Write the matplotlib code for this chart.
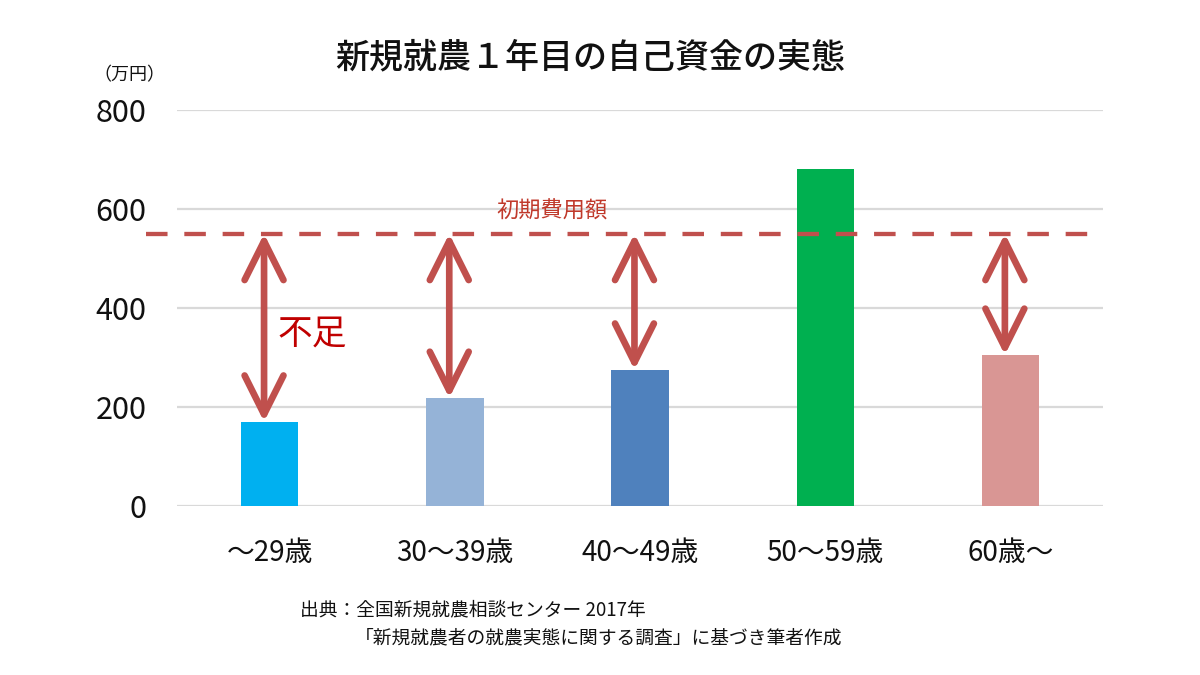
import matplotlib
matplotlib.use("Agg")
import matplotlib.pyplot as plt
from matplotlib.patches import FancyArrowPatch, ArrowStyle

plt.rcParams['font.family'] = ['Noto Sans CJK JP', 'DejaVu Sans']

# ---- data ----
categories = ["～29歳", "30～39歳", "40～49歳", "50～59歳", "60歳～"]
own_funds = [170, 218, 275, 680, 305]
initial_cost = 550
bar_colors = ["#00B0F0", "#95B3D7", "#4F81BD", "#00B050", "#D99694"]
yticks = [0, 200, 400, 600, 800]
title = "新規就農１年目の自己資金の実態"
unit_label = "（万円）"
cost_label = "初期費用額"
short_label = "不足"
source_lines = ["出典：全国新規就農相談センター 2017年",
                "「新規就農者の就農実態に関する調査」に基づき筆者作成"]

red = "#C0504D"

fig = plt.figure(figsize=(12, 6.75), dpi=100)
ax = fig.add_axes([0.1475, 0.2504, 0.7717, 0.5867])

x = list(range(len(categories)))
ax.bar(x, own_funds, width=0.31, color=bar_colors, zorder=2)

ax.set_xlim(-0.5, len(categories) - 0.5)
ax.set_ylim(0, 800)
ax.set_yticks(yticks)
ax.set_yticklabels([str(v) for v in yticks])
ax.set_xticks(x)
ax.set_xticklabels(categories)
ax.yaxis.grid(True, color="#D9D9D9", lw=1.6, zorder=0)
ax.set_axisbelow(True)
for s in ax.spines.values():
    s.set_visible(False)
ax.tick_params(axis='y', length=0, pad=22, labelsize=22, labelcolor="#111111")
ax.tick_params(axis='x', length=0, pad=23, labelsize=20, labelcolor="#111111")

# dashed initial cost line
ax.axhline(initial_cost, xmin=-0.033, xmax=1.0, color=red, lw=3.1,
           linestyle=(0, (5.0, 3.9)), clip_on=False, zorder=4)

# arrows from cost line to bars (where short)
for xi, v in zip(x, own_funds):
    if v < initial_cost:
        arr = FancyArrowPatch((xi - 0.03, initial_cost), (xi - 0.03, v),
                              arrowstyle=ArrowStyle('<->', head_length=1.4, head_width=0.7),
                              mutation_scale=20, lw=4.8, color=red,
                              capstyle='round', joinstyle='round',
                              shrinkA=0, shrinkB=0, zorder=5)
        ax.add_patch(arr)

ax.text(1.527, 595, cost_label, ha='center', va='center', fontsize=16,
        color="#C0392B", zorder=6)
ax.text(0.04, 348, short_label, ha='left', va='center', fontsize=25,
        color="#C00000", zorder=6)

fig.text(0.492, 0.914, title, ha='center', va='center', fontsize=24.5,
         color="#111111", weight='medium')
fig.text(0.078, 0.889, unit_label, ha='left', va='center', fontsize=13,
         color="#111111")
fig.text(300 / 1200, 1 - 610 / 675, source_lines[0], ha='left', va='center',
         fontsize=13.5, color="#111111")
fig.text(355 / 1200, 1 - 638 / 675, source_lines[1], ha='left', va='center',
         fontsize=13.5, color="#111111")

fig.savefig("out.png", dpi=100, facecolor="white")
